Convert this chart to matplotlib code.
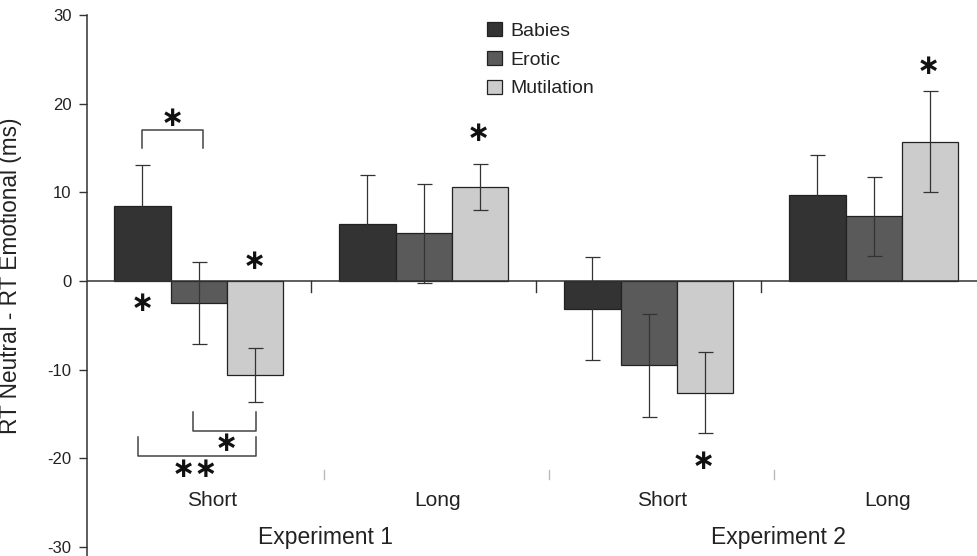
import matplotlib
matplotlib.use("Agg")
import matplotlib.pyplot as plt
import numpy as np

# ---- data ----
conditions = ["Short", "Long", "Short", "Long"]
experiments = ["Experiment 1", "Experiment 2"]
series = ["Babies", "Erotic", "Mutilation"]
babies = [8.5, 6.4, -3.1, 9.7]
babies_err = [4.6, 5.6, 5.8, 4.5]
erotic = [-2.5, 5.4, -9.5, 7.3]
erotic_err = [4.6, 5.6, 5.8, 4.45]
mutilation = [-10.6, 10.6, -12.6, 15.7]
mutilation_err = [3.05, 2.6, 4.55, 5.7]
yticks = [-30, -20, -10, 0, 10, 20, 30]

colors = ["#333333", "#5a5a5a", "#cccccc"]

plt.rcParams['font.family'] = ['Liberation Sans', 'DejaVu Sans']
plt.rcParams['axes.unicode_minus'] = False

W, H = 978, 556
fig = plt.figure(figsize=(W / 100, H / 100), dpi=100)
left_px = 86.7
top_px = 15.3
ax = fig.add_axes([left_px / W, 0, 1 - left_px / W, (H - top_px) / H])

ngroups = len(conditions)
group_x = np.arange(ngroups) * 4.0
vals = [babies, erotic, mutilation]
errs = [babies_err, erotic_err, mutilation_err]

for j, (name, v, e, c) in enumerate(zip(series, vals, errs, colors)):
    x = group_x + j
    ax.bar(x, v, width=1.0, color=c, edgecolor="#222222", linewidth=0.9,
           label=name, zorder=2)
    ax.errorbar(x, v, yerr=e, fmt="none", ecolor="#333333", elinewidth=0.9,
                capsize=5.4, capthick=0.9, zorder=4)

ax.set_xlim(-0.99, 14.855)
ax.set_ylim(-31.04, 30)
ax.axhline(0, color="#333333", lw=1.1, zorder=3)

# separators on zero line
for g in range(ngroups - 1):
    xs = group_x[g] + 3.0
    ax.plot([xs, xs], [0, -1.25], color="#333333", lw=1.0, zorder=3)
    # light separators at bottom
    ax.plot([xs + 0.23, xs + 0.23], [-21.3, -22.4], color="#bbbbbb", lw=1.0,
            clip_on=False)

# condition labels
for g, lab in enumerate(conditions):
    ax.text(group_x[g] + 1.24, -24.8, lab, ha="center", va="center",
            fontsize=15, color="#222222")
ax.text(3.25, -29.0, experiments[0], ha="center", va="center", fontsize=16.5,
        color="#222222")
ax.text(11.3, -29.0, experiments[1], ha="center", va="center", fontsize=16.5,
        color="#222222")

# axes styling
for s in ["top", "right", "bottom"]:
    ax.spines[s].set_visible(False)
ax.spines["left"].set_color("#333333")
ax.spines["left"].set_linewidth(1.1)
ax.set_xticks([])
ax.set_yticks(yticks)
ax.tick_params(axis="y", length=6, width=1.0, color="#333333", pad=5,
               labelsize=12, labelcolor="#222222")
ax.set_ylabel("RT Neutral - RT Emotional (ms)", fontsize=16.3, color="#222222")
ax.yaxis.set_label_coords(-0.0726, 0.518)

# legend
leg = ax.legend(loc="upper left", bbox_to_anchor=(487 / W, 1 - 22 / H),
                bbox_transform=fig.transFigure, frameon=False, fontsize=14,
                handlelength=0.75, handleheight=0.75, handletextpad=0.45,
                labelspacing=0.56, borderpad=0, borderaxespad=0)
for t in leg.get_texts():
    t.set_color("#222222")

# significance annotations
star_kw = dict(ha="center", va="center", fontsize=20, color="#111111",
               family="DejaVu Sans", fontweight="bold")
bc = "#444444"
# upper bracket Babies vs Erotic (Exp1 short)
ax.plot([0, 0, 1.08, 1.08], [15.05, 17.1, 17.1, 15.05], color=bc, lw=1.1)
ax.text(0.53, 18.4, "∗", **star_kw)
# lower brackets
ax.plot([0.905, 0.905, 2.02, 2.02], [-14.82, -16.9, -16.9, -14.82], color=bc, lw=1.1)
ax.text(1.50, -18.32, "∗", **star_kw)
ax.plot([-0.073, -0.073, 2.02, 2.02], [-17.64, -19.72, -19.72, -17.64], color=bc, lw=1.1)
ax.text(0.935, -21.25, "∗∗", **star_kw)
# single-bar stars
ax.text(0.0, -2.45, "∗", **star_kw)
ax.text(1.99, 2.26, "∗", **star_kw)
ax.text(5.98, 16.7, "∗", **star_kw)
ax.text(9.97, -20.3, "∗", **star_kw)
ax.text(13.98, 24.3, "∗", **star_kw)

fig.savefig("out.png", dpi=100)
